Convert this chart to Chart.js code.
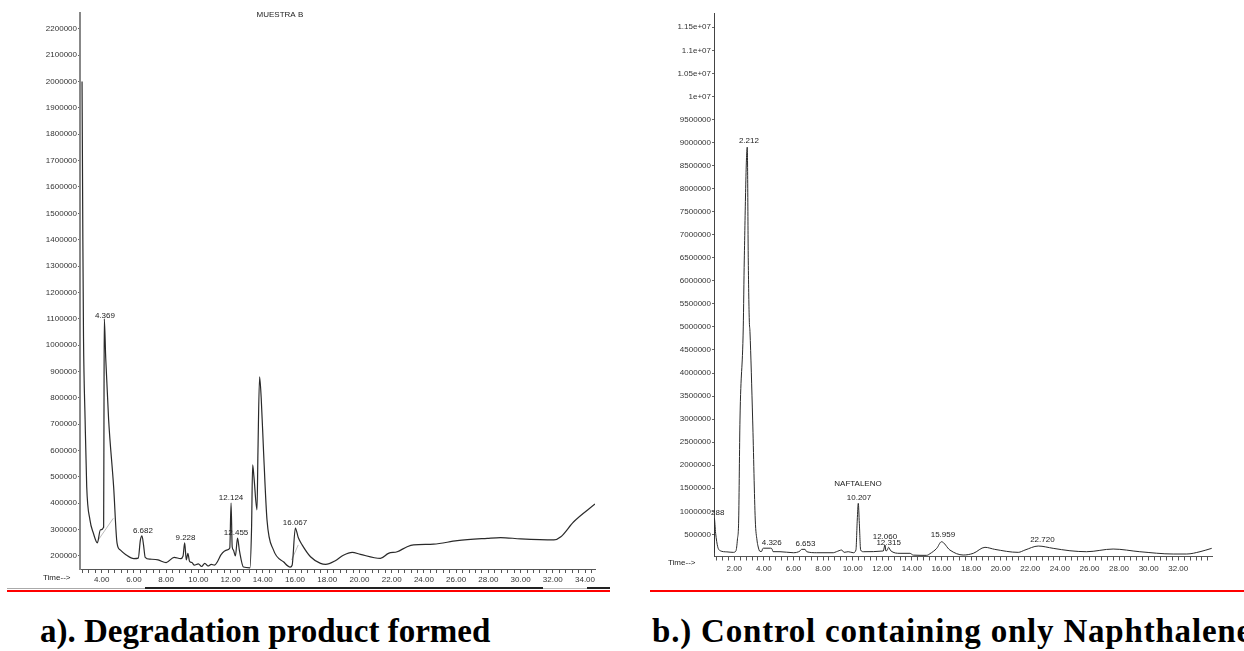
<!DOCTYPE html>
<html><head><meta charset="utf-8">
<script src="https://cdn.jsdelivr.net/npm/chart.js@4.4.1/dist/chart.umd.min.js"></script>
<style>
html,body{margin:0;padding:0;background:#fff;width:1244px;height:651px;overflow:hidden;position:relative}
#c1{position:absolute;left:0;top:0}
#c2{position:absolute;left:640px;top:0}
.ln{position:absolute}
.cap{position:absolute;top:615px;font:bold 33px "Liberation Serif","Times New Roman",serif;line-height:33px;color:#000;white-space:nowrap}
</style></head><body>
<canvas id="c1" width="620" height="600"></canvas>
<canvas id="c2" width="604" height="600"></canvas>
<div class="ln" style="left:7px;top:588px;width:138px;height:1px;background:#aaa"></div>
<div class="ln" style="left:145px;top:587px;width:398px;height:2px;background:#222"></div>
<div class="ln" style="left:543px;top:588px;width:44px;height:1px;background:#bbb"></div>
<div class="ln" style="left:587px;top:587px;width:23px;height:2px;background:#222"></div>
<div class="ln" style="left:7px;top:590px;width:603px;height:2px;background:#f00"></div>
<div class="ln" style="left:650px;top:590px;width:594px;height:2px;background:#f00"></div>
<div class="cap" style="left:40px">a). Degradation product formed</div>
<div class="cap" style="left:652px;letter-spacing:0.8px">b.) Control containing only Naphthalene</div>
<script>
// ---------- Panel a) MUESTRA B ----------
const leftTimes = [
 2.78,2.83,2.87,2.97,3.07,3.27,3.48,3.73,3.92,4.12,
 4.14,4.16,4.25,4.43,4.74,4.95,5.15,5.5,6.0,6.27,
 6.4,6.5,6.6,6.7,7.0,7.5,8.0,8.5,8.9,9.05,
 9.15,9.25,9.35,9.45,9.6,9.75,10.0,10.2,10.4,10.6,
 10.8,11.0,11.2,11.4,11.8,11.95,12.03,12.1,12.17,12.3,
 12.43,12.55,12.8,13.2,13.3,13.37,13.45,13.64,13.7,13.8,
 13.9,14.05,14.26,14.66,15.3,15.7,15.82,16.02,16.2,16.44,
 16.96,17.58,17.9,18.5,19.0,19.55,20.06,21.3,21.8,22.34,
 22.96,23.36,24.6,26.07,27.93,28.76,30.0,32.07,32.5,33.3,
 34.62];
const leftSignal = [
 2000000,1400000,1034000,717000,463000,337000,287000,250000,299000,309000,
 700000,1100000,950000,717000,463000,250000,223000,205000,190000,192000,
 260000,276000,240000,195000,188000,185000,175000,195000,190000,200000,
 250000,185000,210000,180000,175000,165000,170000,160000,172000,162000,
 168000,165000,180000,204000,223000,230000,401000,235000,223000,200000,
 268000,220000,158000,155000,300000,546000,500000,375000,600000,880000,
 800000,592000,337000,223000,177000,158000,165000,306000,270000,242000,
 197000,172000,168000,182000,203000,214000,206000,191000,210000,216000,
 235000,242000,245000,258000,267000,270000,265000,261000,273000,330000,
 397000];
const leftBaseTimes  = [3.79,4.72,null,15.79,16.2];
const leftBaseSignal = [261000,343000,null,185000,242000];
const leftYTicks = [200000,300000,400000,500000,600000,700000,800000,900000,1000000,1100000,1200000,
 1300000,1400000,1500000,1600000,1700000,1800000,1900000,2000000,2100000,2200000];
const leftXLabelValues = [4,6,8,10,12,14,16,18,20,22,24,26,28,30,32,34];
const leftXLabels = ["4.00","6.00","8.00","10.00","12.00","14.00","16.00","18.00","20.00","22.00","24.00","26.00","28.00","30.00","32.00","34.00"];
const leftPeakTexts  = ["4.369","6.682","9.228","12.124","12.455","16.067","MUESTRA B"];
const leftPeakTimes  = [4.2,6.56,9.2,12.03,12.34,16.0,15.06];
const leftPeakValues = [1097000,281000,253000,405000,272000,311000,2238000];

// ---------- Panel b) Control ----------
const rightTimes = [
 0.64,0.65,0.74,0.88,1.05,1.5,1.93,2.11,2.216,2.297,
 2.385,2.608,2.676,2.878,2.946,3.014,3.06,3.243,3.419,3.534,
 3.6,3.74,3.85,3.92,4.0,4.45,4.55,4.62,5.09,5.99,
 6.44,6.55,6.78,6.89,7.57,8.69,8.9,9.26,9.42,9.7,
 10.04,10.22,10.31,10.38,10.45,10.54,10.72,12.07,12.18,12.25,
 12.34,12.43,12.57,13.2,13.87,14.1,15.0,15.22,15.68,16.0,
 16.57,17.47,18.15,18.94,19.6,21.19,21.64,22.54,23.55,24.68,
 25.8,27.6,29.4,31.66,32.57,33.47,34.26];
const rightSignal = [
 102000,848000,523000,232000,145000,120000,110000,140000,400000,811000,
 2980000,5000000,6450000,8900000,6450000,5150000,4900000,2980000,811000,377000,
 250000,130000,130000,190000,200000,200000,185000,125000,124000,102000,
 139000,175000,175000,124000,102000,102000,124000,160000,110000,124000,
 102000,160000,811000,1173000,740000,160000,124000,139000,269000,139000,
 160000,219000,145000,89000,89000,50000,45000,80000,197000,340000,
 160000,52000,89000,219000,175000,110000,160000,247000,197000,145000,
 124000,182000,124000,74000,74000,124000,197000];
const rightYTicks = [500000,1000000,1500000,2000000,2500000,3000000,3500000,4000000,4500000,5000000,5500000,
 6000000,6500000,7000000,7500000,8000000,8500000,9000000,9500000,10000000,10500000,11000000,11500000];
const rightYLabels = ["500000","1000000","1500000","2000000","2500000","3000000","3500000","4000000","4500000","5000000","5500000",
 "6000000","6500000","7000000","7500000","8000000","8500000","9000000","9500000","1e+07","1.05e+07","1.1e+07","1.15e+07"];
const rightXLabelValues = [2,4,6,8,10,12,14,16,18,20,22,24,26,28,30,32];
const rightXLabels = ["2.00","4.00","6.00","8.00","10.00","12.00","14.00","16.00","18.00","20.00","22.00","24.00","26.00","28.00","30.00","32.00"];
const rightPeakTexts  = ["288","2.212","4.326","6.653","NAFTALENO","10.207","12.060","12.315","15.959","22.720"];
const rightPeakTimes  = [0.88,2.99,4.53,6.81,10.36,10.43,12.18,12.43,16.1,22.82];
const rightPeakValues = [876000,8946000,232000,219000,1505000,1217000,362000,232000,399000,290000];

// minor tick positions (every 0.4 min)
function minorTicks(a, b){ const r=[]; for(let k=0;;k++){ const v=Math.round((a+0.4*k)*10)/10; if(v>b) break; r.push(v);} return r; }

const FONT = {size: 8, family: '"Liberation Sans", Arial, sans-serif'};

const textPlugin = {
  id: 'peakText',
  afterDatasetsDraw(chart, args, o){
    const {ctx, scales:{x, y}} = chart;
    ctx.save();
    ctx.font = '8px "Liberation Sans", Arial, sans-serif';
    ctx.fillStyle = '#222';
    ctx.textAlign = 'center';
    ctx.textBaseline = 'bottom';
    o.texts.forEach((t,i)=>ctx.fillText(t, x.getPixelForValue(o.times[i]), y.getPixelForValue(o.values[i])));
    ctx.textAlign = 'left'; ctx.textBaseline = 'middle';
    ctx.fillText('Time-->', o.timeX, o.timeY);
    ctx.restore();
  }
};

function pts(ts, vs){ return ts.map((t,i)=>({x:t, y:vs[i]})); }

function build(id, p){
  return new Chart(document.getElementById(id), {
    type: 'line',
    data: { datasets: p.datasets },
    plugins: [textPlugin],
    options: {
      responsive: false, animation: false, events: [],
      layout: { padding: p.padding },
      plugins: { legend:{display:false}, tooltip:{enabled:false}, peakText: p.text },
      elements: { point:{radius:0} },
      scales: {
        x: {
          type: 'linear', min: p.xmin, max: p.xmax,
          afterBuildTicks: s => { s.ticks = p.xTicks.map(v=>({value:v})); },
          afterFit: s => { s.height = 25; },
          ticks: { autoSkip:false, maxRotation:0, padding:p.xPad, font:FONT, color:'#333',
            callback: v => { const i = p.xLabelValues.findIndex(q=>Math.abs(q-v)<1e-6); return i>=0 ? p.xLabels[i] : ''; } },
          grid: { drawOnChartArea:false, drawTicks:true, tickLength:4, tickColor:'#555', tickWidth:1 },
          border: { display:true, color:'#555', width:1 }
        },
        y: {
          type: 'linear', min: p.ymin, max: p.ymax,
          afterBuildTicks: s => { s.ticks = p.yTicks.map(v=>({value:v})); },
          afterFit: s => { s.width = p.yWidth; },
          ticks: { autoSkip:false, padding:1, font:FONT, color:'#333',
            callback: v => { const i = p.yTicks.indexOf(v); return p.yLabels ? p.yLabels[i] : String(v); } },
          grid: { drawOnChartArea:false, drawTicks:true, tickLength:2, tickColor:'#666' },
          border: { display:true, color:p.yAxisColor, width:p.yAxisWidth }
        }
      }
    }
  });
}

build('c1', {
  datasets: [
    { data: pts(leftTimes, leftSignal), borderColor:'#2a2a2a', borderWidth:1.2, cubicInterpolationMode:'monotone', fill:false },
    { data: pts(leftBaseTimes, leftBaseSignal), borderColor:'#aaa', borderWidth:0.8, spanGaps:false, fill:false }
  ],
  padding: { left:0, right:25, top:13, bottom:6 },
  xmin: 2.653, xmax: 34.62, xTicks: minorTicks(2.8, 34.6), xLabelValues: leftXLabelValues, xLabels: leftXLabels, xPad: 2,
  ymin: 150600, ymax: 2260000, yTicks: leftYTicks, yLabels: null, yWidth: 80,
  yAxisColor: '#888', yAxisWidth: 2,
  text: { texts:leftPeakTexts, times:leftPeakTimes, values:leftPeakValues, timeX:43, timeY:578 }
});

build('c2', {
  datasets: [
    { data: pts(rightTimes, rightSignal), borderColor:'#2a2a2a', borderWidth:1, cubicInterpolationMode:'monotone', fill:false }
  ],
  padding: { left:0, right:32, top:13, bottom:18.5 },
  xmin: 0.63, xmax: 34.28, xTicks: minorTicks(0.8, 34.2), xLabelValues: rightXLabelValues, xLabels: rightXLabels, xPad: 3,
  ymin: 20000, ymax: 11810000, yTicks: rightYTicks, yLabels: rightYLabels, yWidth: 74,
  yAxisColor: '#444', yAxisWidth: 1,
  text: { texts:rightPeakTexts, times:rightPeakTimes, values:rightPeakValues, timeX:28, timeY:563 }
});
</script>
</body></html>
